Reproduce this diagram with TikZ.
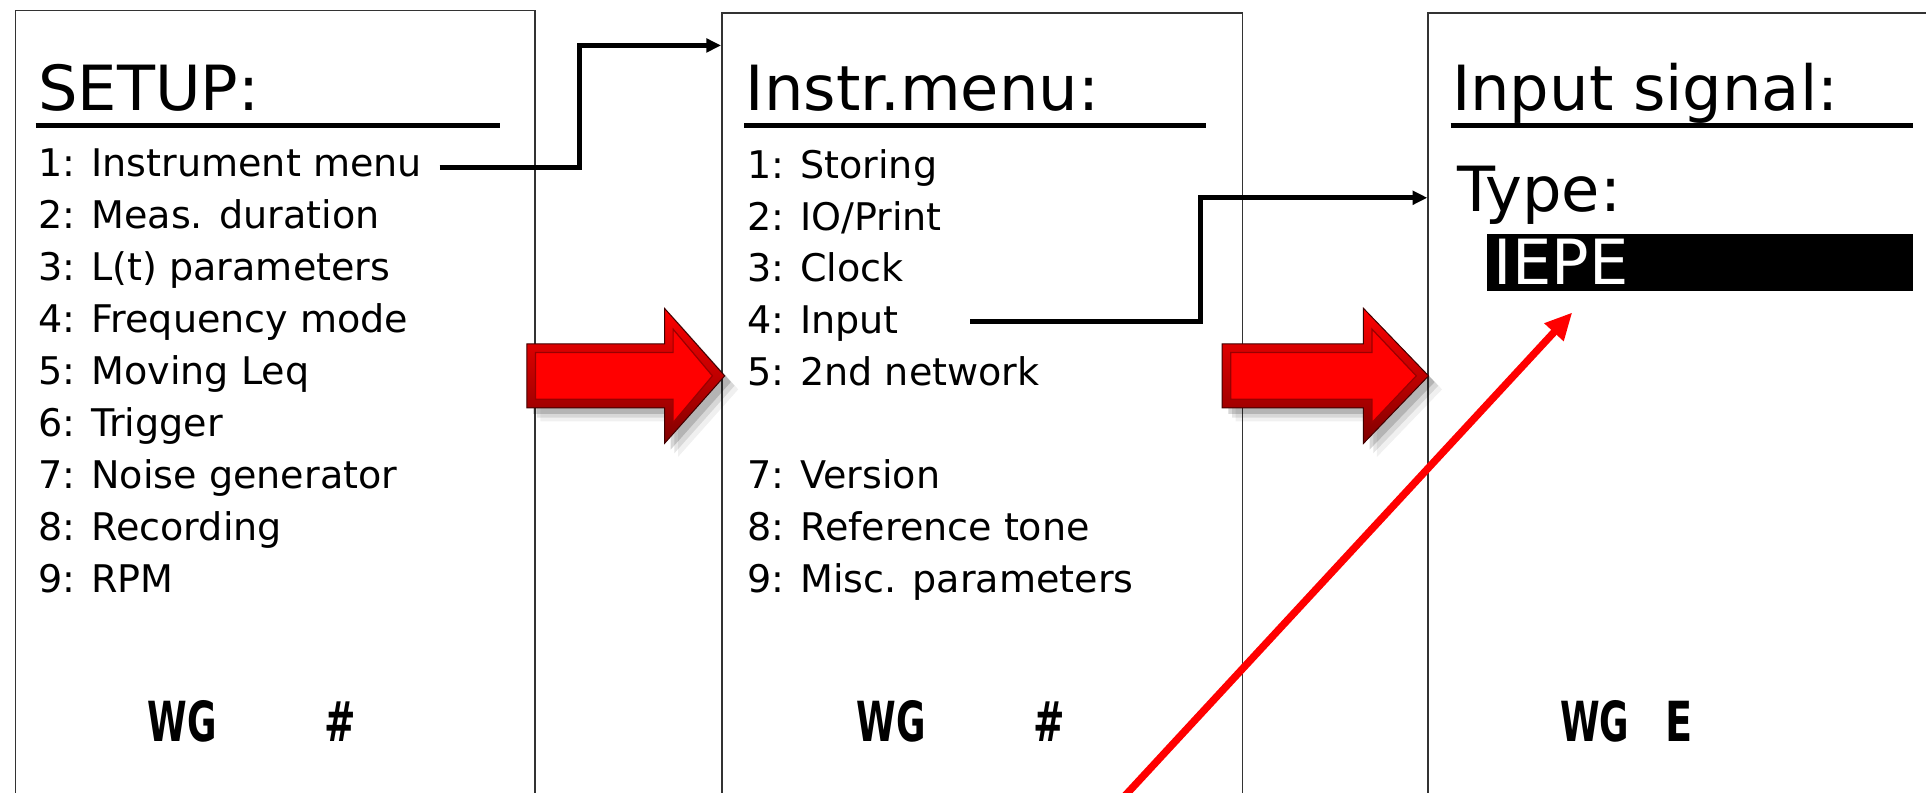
\documentclass[tikz,border=0pt]{standalone}
\usepackage{fontspec}
\usepackage{graphicx}
\setmainfont{DejaVu Sans}
\usetikzlibrary{arrows.meta,calc}
\definecolor{pure red}{RGB}{255,0,0}
\newcommand\redblock[3]{%
  \foreach \s/\o in {11/0.06,8/0.10,5/0.16}{%
    \fill[black,opacity=\o] (#1+\s,280+\s) -- (#2+\s,280+\s) -- (#2+\s,251+\s) -- (#3+\s,306+\s) -- (#2+\s,361+\s) -- (#2+\s,332+\s) -- (#1+\s,332+\s) -- cycle;}
  \shade[top color=pure red, bottom color=pure red!50!black, draw=black!75!red, line width=0.8pt]
    (#1,280) -- (#2,280) -- (#2,251) -- (#3,306) -- (#2,361) -- (#2,332) -- (#1,332) -- cycle;
  \fill[pure red, draw=pure red!60!black, line width=1pt]
    (#1+7,287) -- (#2+7,287) -- (#2+7,268) -- (#3-10,306) -- (#2+7,344) -- (#2+7,325) -- (#1+7,325) -- cycle;
}
\begin{document}
\begin{tikzpicture}[x=1pt,y=-1pt,
  panel/.style={draw=black!80, line width=1.3pt, fill=white, anchor=north west, inner sep=0, minimum height=720pt},
  item/.style={anchor=base west, inner sep=0, font=\fontsize{31}{31}\selectfont},
  hdr/.style={anchor=base west, inner sep=0, font=\fontsize{50.7}{51}\selectfont},
  stat/.style={anchor=base west, inner sep=0, font=\fontsize{45}{45}\selectfont\bfseries},
  uline/.style={line width=4.5pt},
  conn/.style={line width=4pt, -{Triangle[length=12pt,width=11pt]}},
  redline/.style={draw=pure red, line width=6pt, -{Triangle[length=22pt,width=20pt]}}]
\useasboundingbox (0,0) rectangle (1568,645);
\clip (0,0) rectangle (1568,645);
\fill[white] (0,0) rectangle (1568,645);

% panels
\node[panel, minimum width=423pt] (P1) at (12,8) {};
\node[panel, minimum width=424pt] (P2) at (587,10) {};
\node[panel, minimum width=500pt] (P3) at (1162,10) {};

% panel 1
\node[hdr] (h1) at (31,90) {SETUP:};
\draw[uline] (29,102) -- (407,102);
\node[item] (s1) at (31,144) {1: Instrument menu};
\node[item] (s2) at (31,186.25) {2: Meas. duration};
\node[item] (s3) at (31,228.5) {3: L(t) parameters};
\node[item] (s4) at (31,270.75) {4: Frequency mode};
\node[item] (s5) at (31,313) {5: Moving Leq};
\node[item] (s6) at (31,355.25) {6: Trigger};
\node[item] (s7) at (31,397.5) {7: Noise generator};
\node[item] (s8) at (31,439.75) {8: Recording};
\node[item] (s9) at (31,482) {9: RPM};
\node[stat] (w1) at (120,604) {\scalebox{0.65}[1]{WG}};
\node[stat] (k1h) at (264,604) {\scalebox{0.68}[1]{\#}};

% panel 2
\node[hdr] (h2) at (607,90) {Instr.menu:};
\draw[uline] (606,102) -- (982,102);
\node[item] (m1) at (608,145) {1: Storing};
\node[item] (m2) at (608,187.25) {2: IO/Print};
\node[item] (m3) at (608,229.5) {3: Clock};
\node[item] (m4) at (608,271.5) {4: Input};
\node[item] (m5) at (608,314) {5: 2nd network};
\node[item] (m7) at (608,397.5) {7: Version};
\node[item] (m8) at (608,440) {8: Reference tone};
\node[item] (m9) at (608,482) {9: Misc. parameters};
\node[stat] (w2) at (697,604) {\scalebox{0.65}[1]{WG}};
\node[stat] (k2h) at (841,604) {\scalebox{0.68}[1]{\#}};

% panel 3
\node[hdr] (h3) at (1182,90) {Input signal:};
\draw[uline] (1181,102) -- (1557,102);
\node[hdr] (ty) at (1186,172) {Type:};
\node[fill=black, anchor=north west, inner sep=0, minimum width=347pt, minimum height=47pt] (box) at (1210,190) {};
\node[hdr, text=white] (iepe) at (1216,232) {IEPE};
\node[stat] (w3) at (1270,604) {\scalebox{0.65}[1]{WG}};
\node[stat] (e3) at (1356,604) {\scalebox{0.72}[1]{E}};

% connectors
\coordinate (c1s) at (358,136);
\coordinate (k1) at (472,37);
\draw[conn] (c1s) -| (k1) -- (P2.west |- k1);
\coordinate (c2s) at (790,262);
\coordinate (k2) at (977,161);
\draw[conn] (c2s) -| (k2) -- (P3.west |- k2);

% block arrows
\redblock{429}{541}{590}
\redblock{995}{1110}{1163}

% red pointer
\coordinate (r0) at (912,652);
\draw[redline] (r0) -- ($(box.south west)+(70,17)$);
\end{tikzpicture}
\end{document}
